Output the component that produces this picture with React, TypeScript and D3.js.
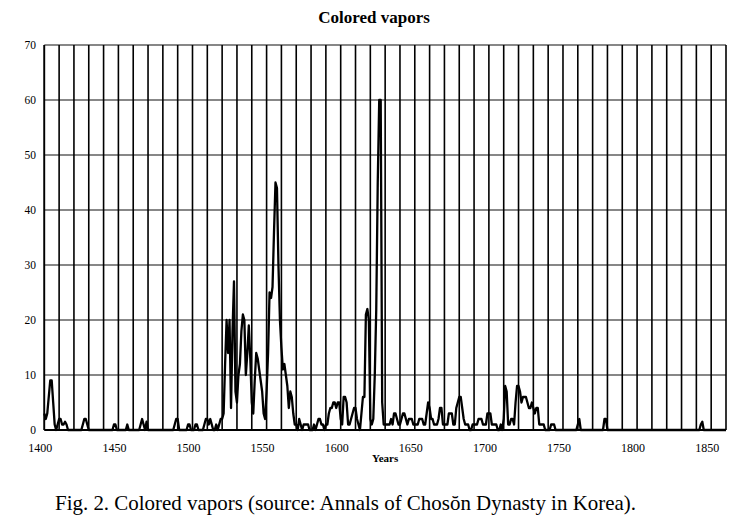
import React from "react";
import * as d3 from "d3";

// Annual counts of "colored vapors" records
const counts1400s = [
  3, 2, 3, 6, 9, 9, 5, 1, 0, 1,
  2, 2, 1, 1, 1.5, 1, 0, 0, 0, 0,
  0, 0, 0, 0, 0, 0, 1, 2, 2, 1,
  0, 0, 0, 0, 0, 0, 0, 0, 0, 0,
  0, 0, 0, 0, 0, 0, 0, 1, 1, 0,
  0, 0, 0, 0, 0, 0, 1, 0, 0, 0,
  0, 0, 0, 0, 0, 1, 2, 1, 0, 1.5,
  0, 0, 0, 0, 0, 0, 0, 0, 0, 0,
  0, 0, 0, 0, 0, 0, 0, 0, 1, 2,
  2, 0, 0, 0, 0, 0, 0, 1, 1, 0,
];
const counts1500s = [
  0, 0, 1, 1, 0, 0, 0, 0, 1, 2,
  2, 1, 2, 1, 0, 0, 1, 0, 1, 2,
  2, 3, 12, 20, 14, 20, 4, 18, 27, 7,
  5, 10, 12, 18, 21, 20, 10, 14, 19, 13,
  5, 3, 9, 14, 13, 11, 9, 7, 3, 2,
  7, 14, 25, 24, 26, 36, 45, 44, 30, 20,
  15, 11, 12, 10, 8, 4, 7, 6, 3, 1,
  1, 0, 2, 1, 0, 1, 1, 1, 1, 0,
  0, 0, 1, 0, 1, 2, 2, 1, 1, 0,
  1, 1, 3, 4, 4, 5, 5, 4, 5, 5,
];
const counts1600s = [
  2, 1, 6, 6, 5, 1, 1, 2, 3, 4,
  4, 2, 1, 0, 3, 6, 6, 21, 22, 20,
  2, 1, 2, 10, 22, 45, 60, 60, 5, 1,
  1, 1, 1, 1, 2, 1, 3, 3, 2, 1,
  1, 2, 3, 3, 2, 1, 2, 2, 2, 1,
  1, 1, 1, 2, 2, 2, 1, 1, 3, 5,
  4, 2, 2, 1, 1, 1, 2, 4, 4, 1,
  1, 1, 1, 3, 3, 3, 1, 1, 4, 5,
  6, 6, 4, 2, 1, 1, 1, 0, 0, 1,
  1, 1, 1, 2, 2, 2, 1, 1, 1, 3,
];
const counts1700s = [
  3, 3, 1, 1, 1, 1, 0, 0, 1, 0,
  2, 8, 7, 1, 1, 2, 2, 1, 5, 8,
  8, 7, 5, 6, 6, 6, 5, 4, 4, 5,
  4, 3, 4, 4, 1, 1, 1, 1, 0, 0,
  0, 0, 1, 1, 1, 0, 0, 0, 0, 0,
  0, 0, 0, 0, 0, 0, 0, 0, 0, 0,
  1, 2, 0, 0, 0, 0, 0, 0, 0, 0,
  0, 0, 0, 0, 0, 0, 0, 0, 2, 2,
  0, 0, 0, 0, 0, 0, 0, 0, 0, 0,
  0, 0, 0, 0, 0, 0, 0, 0, 0, 0,
];
const counts1800s = [
  0, 0, 0, 0, 0, 0, 0, 0, 0, 0,
  0, 0, 0, 0, 0, 0, 0, 0, 0, 0,
  0, 0, 0, 0, 0, 0, 0, 0, 0, 0,
  0, 0, 0, 0, 0, 0, 0, 0, 0, 0,
  0, 0, 0, 1, 1.5, 0, 0, 0, 0, 0,
  0, 0, 0, 0, 0, 0, 0, 0, 0, 0,
  0,
];
const firstYear = 1400;
const xTickYears = [1400, 1450, 1500, 1550, 1600, 1650, 1700, 1750, 1800, 1850];
const yTickValues = [0, 10, 20, 30, 40, 50, 60, 70];

const title = "Colored vapors";
const xTitle = "Years";
const caption = "Fig. 2. Colored vapors (source: Annals of Chosŏn Dynasty in Korea).";

export default function App() {
  const W = 742;
  const H = 531;
  const left = 44.3;
  const right = 726;
  const top = 45;
  const bottom = 430;

  const values = [...counts1400s, ...counts1500s, ...counts1600s, ...counts1700s, ...counts1800s];
  const data = values.map((v, i) => ({ year: firstYear + i, v }));

  const x = d3.scaleLinear().domain([1400, 1860]).range([left, right]);
  const y = d3.scaleLinear().domain([0, 70]).range([bottom, top]);

  const line = d3
    .line<{ year: number; v: number }>()
    .x((d) => x(d.year))
    .y((d) => y(d.v));

  const vGrid = d3.range(1400, 1861, 10);
  const font = "'Liberation Serif', 'Times New Roman', serif";

  return (
    <svg
      width={W}
      height={H}
      style={{ position: "absolute", left: 0, top: 0, background: "#fff" }}
      fontFamily={font}
    >
      <rect x={0} y={0} width={W} height={H} fill="#fff" />
      <text x={374} y={23} textAnchor="middle" fontSize={17} fontWeight="bold" fill="#000">
        {title}
      </text>
      {/* horizontal gridlines */}
      {yTickValues.map((t) => (
        <line key={"h" + t} x1={left} x2={right} y1={y(t)} y2={y(t)} stroke="#111" strokeWidth={1.2} />
      ))}
      {/* vertical gridlines */}
      {vGrid.map((yr) => (
        <line key={"v" + yr} x1={x(yr)} x2={x(yr)} y1={top} y2={bottom} stroke="#000" strokeWidth={1.6} />
      ))}
      <line x1={left} x2={left} y1={top} y2={bottom} stroke="#000" strokeWidth={1.6} />
      <line x1={left} x2={right} y1={bottom} y2={bottom} stroke="#000" strokeWidth={1.8} />
      {/* data */}
      <path d={line(data) || ""} fill="none" stroke="#000" strokeWidth={2.3} strokeLinejoin="round" />
      {/* y tick labels */}
      {yTickValues.map((t) => (
        <text key={"yl" + t} x={36} y={y(t) + 4} textAnchor="end" fontSize={11.5} fill="#000">
          {t}
        </text>
      ))}
      {/* x tick labels */}
      {xTickYears.map((t) => (
        <text key={"xl" + t} x={x(t) - 4} y={452} textAnchor="middle" fontSize={12} fill="#000">
          {t}
        </text>
      ))}
      <text x={(left + right) / 2} y={462} textAnchor="middle" fontSize={11} fontWeight="bold" fill="#000">
        {xTitle}
      </text>
      <text x={55} y={510} fontSize={21} fill="#000" textLength={581} lengthAdjust="spacingAndGlyphs">
        {caption}
      </text>
    </svg>
  );
}
